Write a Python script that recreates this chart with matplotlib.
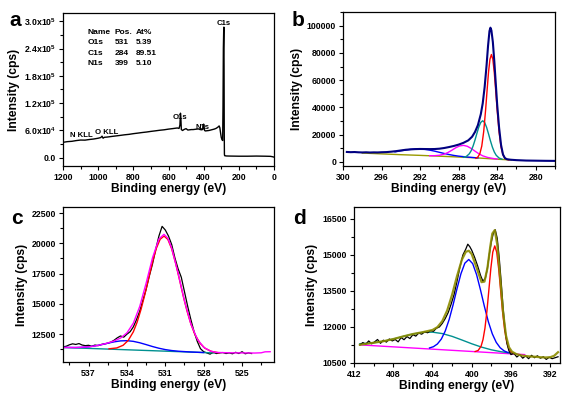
import matplotlib
matplotlib.use("Agg")
import matplotlib.pyplot as plt
from matplotlib.ticker import MultipleLocator, FixedLocator

plt.rcParams['font.family'] = ['Liberation Sans', 'DejaVu Sans']
plt.rcParams['font.weight'] = 'bold'
plt.rcParams['mathtext.fontset'] = 'custom'
plt.rcParams['mathtext.rm'] = 'Liberation Sans:bold'
plt.rcParams['mathtext.bf'] = 'Liberation Sans:bold'
plt.rcParams['mathtext.it'] = 'Liberation Sans:bold'

# ---------------- Panel a: survey ----------------
a_energy = [1200, 1175, 1150, 1125, 1100, 1075, 1050, 1025, 1000, 985, 978, 972, 965, 950,
            925, 900, 875, 850, 825, 800, 775, 750, 725, 700, 675, 650, 625, 600, 575, 550,
            540, 535, 532, 530, 527, 520, 510, 500, 490, 480, 470, 460, 450, 440, 430, 420,
            410, 404, 400, 398, 395, 390, 380, 370, 360, 350, 340, 330, 320, 312, 308, 304,
            300, 296, 292, 290, 288, 286, 285, 284, 283, 282, 281, 280, 270, 250, 200, 150,
            100, 50, 20, 10, 0]
a_counts = [34000, 35500, 36200, 37800, 39000, 38800, 40200, 41300, 43000, 44500, 47500, 43000,
            45000, 45500, 46800, 48000, 49200, 50500, 51500, 53000, 54200, 55500, 56600, 58000,
            59200, 60500, 61500, 63000, 64200, 65500, 64500, 72000, 98000, 90000, 62000, 60000,
            62500, 64000, 61000, 61500, 62000, 62000, 62500, 63000, 63500, 62000, 61500, 63000,
            74000, 70000, 60000, 59000, 59500, 60000, 61000, 62000, 63000, 64500, 67000, 70000,
            66000, 55000, 45000, 40000, 38000, 112000, 240000, 280000, 287000, 200000, 60000,
            8000, 5000, 4500, 4000, 3800, 3500, 3500, 3800, 3500, 3200, 2500, 1500]
a_peak_labels = ["N KLL", "O KLL", "O1s", "N1s", "C1s"]
a_table = [["Name", "Pos.", "At%"],
           ["O1s", "531", "5.39"],
           ["C1s", "284", "89.51"],
           ["N1s", "399", "5.10"]]
a_yticks = [0, 60000, 120000, 180000, 240000, 300000]
a_yticklabels = ["0.0", "6.0x10$^{4}$", "1.2x10$^{5}$", "1.8x10$^{5}$", "2.4x10$^{5}$", "3.0x10$^{5}$"]

# ---------------- Panel b: C1s ----------------
b_data_e = [299.6, 299.2, 298.8, 298.4, 298.0, 297.6, 297.2, 296.8, 296.4, 296.0, 295.5, 295.0,
            294.5, 294.0, 293.5, 293.0, 292.5, 292.0, 291.5, 291.0, 290.5, 290.0, 289.5, 289.0,
            288.5, 288.0, 287.5, 287.0, 286.6, 286.3, 286.0, 285.7, 285.5, 285.3, 285.1, 284.95,
            284.8, 284.7, 284.6, 284.45, 284.3, 284.15, 284.0, 283.8, 283.6, 283.4, 283.2, 283.0,
            282.6, 282.0, 281.0, 280.0, 279.0, 278.0]
b_data_i = [7300, 7150, 7250, 7050, 6950, 7050, 6900, 7000, 6950, 7100, 7200, 7500,
            7900, 8400, 8900, 9200, 9400, 9500, 9450, 9400, 9450, 9700, 10200, 10900,
            11700, 12700, 14000, 15800, 18500, 22000, 27000, 35000, 43000, 55000, 71000, 85000,
            96000, 98500, 96500, 88000, 74000, 58000, 42000, 25000, 12500, 5500, 2800, 2000,
            1600, 1300, 1000, 900, 800, 750]
b_red_e = [286.2, 286.0, 285.8, 285.6, 285.4, 285.2, 285.05, 284.9, 284.75, 284.6, 284.45, 284.3,
           284.15, 284.0, 283.8, 283.6, 283.4, 283.2, 283.0, 282.8]
b_red_i = [2700, 3650, 6000, 11600, 22200, 38200, 52300, 65700, 75300, 78800, 75300, 65500,
           52100, 37900, 21750, 11000, 5300, 2750, 1850, 1450]
b_teal_e = [287.5, 287.2, 286.9, 286.7, 286.5, 286.3, 286.1, 285.9, 285.7, 285.5, 285.3, 285.1,
            284.9, 284.7, 284.5, 284.3, 284.1, 283.8, 283.5]
b_teal_i = [3400, 4000, 5900, 8200, 11660, 16100, 21060, 25700, 29040, 30200, 28900, 25400,
            20600, 15500, 10900, 7300, 4850, 2840, 2000]
b_mag_e = [291.0, 290.5, 290.0, 289.5, 289.1, 288.7, 288.3, 287.9, 287.5, 287.1, 286.7, 286.3,
           285.9, 285.5, 285.0, 284.5, 284.0]
b_mag_i = [4560, 4560, 4860, 5700, 6950, 8590, 10380, 11710, 12150, 11470, 9880, 7870,
           5970, 4460, 3300, 2600, 2060]
b_blue_e = [294.6, 294.0, 293.5, 293.0, 292.5, 292.0, 291.5, 291.0, 290.5, 290.0, 289.5, 289.0,
            288.5, 288.0, 287.0, 286.0]
b_blue_i = [7370, 8150, 8700, 9200, 9450, 9500, 9200, 8650, 7900, 7050, 6200, 5420,
            4760, 4235, 3500, 2950]
b_base_e = [298.0, 296.0, 294.0, 292.0, 290.0, 288.0, 286.0, 284.0, 283.0, 282.5]
b_base_i = [6500, 5900, 5300, 4800, 4200, 3600, 2900, 2000, 1600, 1400]

# ---------------- Panel c: O1s ----------------
c_data_e = [539.0, 538.75, 538.5, 538.25, 538.0, 537.75, 537.5, 537.25, 537.0, 536.75, 536.5,
            536.25, 536.0, 535.75, 535.5, 535.25, 535.0, 534.75, 534.5, 534.25, 534.0, 533.75,
            533.5, 533.25, 533.0, 532.75, 532.5, 532.25, 532.0, 531.75, 531.5, 531.25, 531.0,
            530.75, 530.5, 530.25, 530.0, 529.75, 529.5, 529.25, 529.0, 528.75, 528.5, 528.25,
            528.0, 527.75, 527.5, 527.25, 527.0, 526.75, 526.5, 526.25, 526.0, 525.75, 525.5,
            525.25, 525.0, 524.75, 524.5, 524.25]
c_data_i = [11450, 11500, 11620, 11700, 11650, 11720, 11600, 11550, 11580, 11500, 11600,
            11550, 11650, 11700, 11750, 11850, 12000, 12200, 12350, 12250, 12500, 12700,
            13100, 13700, 14400, 15300, 16200, 17300, 18300, 19500, 20600, 21400, 21100,
            20600, 19900, 18800, 17900, 17200, 16000, 14800, 13700, 12700, 11900, 11300,
            11050, 10950, 10850, 11000, 10900, 10950, 10980, 10900, 10950, 10880, 11000,
            10900, 11050, 10880, 10950, 10900]
c_fit_e = [539.0, 538.0, 537.0, 536.5, 536.0, 535.5, 535.0, 534.5, 534.0, 533.5, 533.0, 532.5,
           532.0, 531.5, 531.1, 530.8, 530.5, 530.0, 529.5, 529.0, 528.5, 528.0, 527.5, 527.0,
           526.0, 525.0, 524.0, 523.5, 523.2, 522.8]
c_fit_i = [11406, 11395, 11453, 11526, 11633, 11770, 11938, 12178, 12605, 13405, 14782, 16710,
           18807, 20362, 20743, 20418, 19614, 17541, 15244, 13344, 12092, 11420, 11111, 10990,
           10960, 10950, 10940, 10960, 11040, 11050]
c_red_e = [535.4, 534.8, 534.3, 533.9, 533.5, 533.2, 532.9, 532.6, 532.3, 532.0, 531.7, 531.4,
           531.1, 530.8, 530.5, 530.2, 529.9, 529.6, 529.3, 529.0, 528.7, 528.3, 527.9, 527.4, 526.8]
c_red_i = [11290, 11360, 11580, 11980, 12690, 13500, 14540, 15775, 17130, 18460, 19590, 20340,
           20600, 20320, 19545, 18390, 17040, 15660, 14400, 13340, 12510, 11765, 11335, 11077, 10960]
c_blue_e = [539.0, 538.0, 537.5, 537.0, 536.5, 536.0, 535.5, 535.0, 534.5, 534.0, 533.5, 533.0,
            532.5, 532.0, 531.5, 531.0, 530.5, 530.0, 529.0, 528.0]
c_blue_i = [11406, 11395, 11412, 11453, 11526, 11629, 11751, 11865, 11943, 11960, 11905, 11789,
            11637, 11477, 11336, 11225, 11146, 11091, 11026, 10981]
c_base_e = [539.0, 527.2]
c_base_i = [11400, 10950]

# ---------------- Panel d: N1s ----------------
d_data_e = [411.4, 411.1, 410.8, 410.5, 410.2, 409.9, 409.6, 409.3, 409.0, 408.7, 408.4, 408.1,
            407.8, 407.5, 407.2, 406.9, 406.6, 406.3, 406.0, 405.7, 405.4, 405.1, 404.8, 404.5,
            404.2, 403.9, 403.6, 403.3, 403.0, 402.7, 402.4, 402.1, 401.8, 401.5, 401.2, 400.9,
            400.6, 400.4, 400.2, 400.0, 399.7, 399.4, 399.1, 398.85, 398.6, 398.4, 398.2, 398.0,
            397.8, 397.6, 397.4, 397.2, 397.0, 396.8, 396.6, 396.4, 396.2, 396.0, 395.7, 395.4,
            395.1, 394.8, 394.5, 394.2, 393.9, 393.6, 393.3, 393.0, 392.7, 392.4, 392.1, 391.8,
            391.5, 391.2]
d_data_i = [11250, 11350, 11280, 11420, 11300, 11380, 11480, 11320, 11450, 11370, 11500, 11420,
            11480, 11380, 11560, 11470, 11600, 11520, 11680, 11620, 11750, 11700, 11800, 11760,
            11850, 11820, 11950, 12000, 12150, 12350, 12600, 12950, 13350, 13900, 14500, 15000,
            15250, 15450, 15350, 15200, 14900, 14550, 14150, 13900, 14050, 14450, 15050, 15550,
            15900, 16050, 15700, 14900, 13900, 12800, 11900, 11300, 11000, 10850, 10900, 10750,
            10850, 10700, 10800, 10680, 10820, 10720, 10800, 10700, 10760, 10650, 10740, 10680,
            10720, 10760]
d_fit_e = [411.4, 410.0, 409.0, 408.0, 407.0, 406.0, 405.0, 404.0, 403.5, 403.0, 402.5, 402.0,
           401.5, 401.0, 400.6, 400.3, 400.0, 399.5, 399.0, 398.7, 398.4, 398.1, 397.9, 397.65,
           397.4, 397.1, 396.8, 396.5, 396.2, 395.9, 395.5, 395.0, 394.5, 394.0, 393.5, 393.0,
           392.5, 392.0, 391.6, 391.2]
d_fit_i = [11260, 11343, 11407, 11497, 11606, 11707, 11784, 11875, 11993, 12244, 12689, 13343,
           14117, 14807, 15132, 15178, 15039, 14468, 13868, 13892, 14447, 15376, 15893, 16036,
           15443, 14051, 12613, 11633, 11156, 10974, 10880, 10820, 10790, 10770, 10760, 10740,
           10730, 10740, 10800, 10950]
d_blue_e = [404.3, 403.9, 403.5, 403.1, 402.7, 402.3, 401.9, 401.5, 401.1, 400.7, 400.3, 399.9,
            399.5, 399.1, 398.7, 398.3, 397.9, 397.5, 397.1, 396.7, 396.3]
d_blue_i = [11127, 11180, 11292, 11496, 11831, 12312, 12923, 13594, 14217, 14659, 14814, 14639,
            14177, 13536, 12845, 12214, 11714, 11360, 11136, 11006, 10934]
d_red_e = [399.65, 399.35, 399.05, 398.85, 398.65, 398.45, 398.25, 398.05, 397.85, 397.65,
           397.45, 397.25, 397.05, 396.85, 396.65, 396.45, 396.25, 395.95, 395.65]
d_red_i = [10979, 11021, 11194, 11474, 11951, 12660, 13548, 14443, 15125, 15379,
           15115, 14423, 13518, 12621, 11902, 11415, 11125, 10938, 10882]
d_teal_e = [411.4, 410.0, 409.0, 408.0, 407.0, 406.0, 405.0, 404.0, 403.0, 402.0, 401.0, 400.0,
            399.0, 398.0, 397.0, 396.0, 395.5]
d_teal_i = [11304, 11343, 11407, 11497, 11606, 11707, 11775, 11785, 11726, 11610, 11459, 11302,
            11162, 11050, 10969, 10911, 10888]
d_base_e = [411.4, 394.6]
d_base_i = [11255, 10850]

# ---------------- Figure ----------------
W, H = 576, 399
fig = plt.figure(figsize=(W / 100, H / 100), dpi=100)


def ax_at(l, t, r, b):
    return fig.add_axes([l / W, 1 - b / H, (r - l) / W, (b - t) / H])


axa = ax_at(63, 13, 274, 166)
axb = ax_at(343, 12, 555, 166)
axc = ax_at(63, 207, 274, 362)
axd = ax_at(354, 207, 560, 363)

TICK_FS = 6.3
LAB_FS = 8.7

for ax in (axa, axb, axc, axd):
    for s in ax.spines.values():
        s.set_linewidth(0.9)
    ax.tick_params(which='both', direction='out', top=False, right=False, width=0.8,
                   labelsize=TICK_FS, pad=2)
    ax.tick_params(which='major', length=3)
    ax.tick_params(which='minor', length=2)
    ax.set_xlabel("Binding energy (eV)", fontsize=LAB_FS, fontweight='bold', labelpad=1)
    ax.set_ylabel("Intensity (cps)", fontsize=LAB_FS, fontweight='bold', labelpad=3)

# Panel a
axa.plot(a_energy, a_counts, color='black', lw=1.0)
axa.set_xlim(1200, 0)
axa.set_ylim(-18000, 318000)
axa.xaxis.set_major_locator(MultipleLocator(200))
axa.xaxis.set_minor_locator(MultipleLocator(100))
axa.yaxis.set_major_locator(FixedLocator(a_yticks))
axa.yaxis.set_minor_locator(MultipleLocator(30000))
axa.set_yticklabels(a_yticklabels, fontweight='bold')
ann_fs = 6.0
axa.text(1162, 50000, a_peak_labels[0], fontsize=5.6, ha='left', va='center')
axa.text(1020, 56000, a_peak_labels[1], fontsize=5.6, ha='left', va='center')
axa.text(536, 89000, a_peak_labels[2], fontsize=5.6, ha='center', va='center')
axa.text(404, 66000, a_peak_labels[3], fontsize=5.6, ha='center', va='center')
axa.text(284, 296000, a_peak_labels[4], fontsize=5.6, ha='center', va='center')
row_y = [276000, 253000, 230000, 207000]
col_x = [1058, 907, 787]
for r, row in enumerate(a_table):
    for c, val in enumerate(row):
        axa.text(col_x[c], row_y[r], val, fontsize=ann_fs, ha='left', va='center')

# Panel b
axb.plot(b_base_e, b_base_i, color='#999900', lw=1.0)
axb.plot(b_blue_e, b_blue_i, color='#0000ff', lw=1.0)
axb.plot(b_mag_e, b_mag_i, color='#ff00ff', lw=1.0)
axb.plot(b_teal_e, b_teal_i, color='#009090', lw=1.0)
axb.plot(b_red_e, b_red_i, color='#ff0000', lw=1.0)
axb.plot(b_data_e, b_data_i, color='#000080', lw=1.5)
axb.set_xlim(300, 278)
axb.set_ylim(-3000, 110000)
axb.xaxis.set_major_locator(MultipleLocator(4))
axb.xaxis.set_minor_locator(MultipleLocator(2))
axb.yaxis.set_major_locator(MultipleLocator(20000))
axb.yaxis.set_minor_locator(MultipleLocator(10000))

# Panel c
axc.plot(c_data_e, c_data_i, color='black', lw=0.9)
axc.plot(c_base_e, c_base_i, color='#009090', lw=1.0)
axc.plot(c_blue_e, c_blue_i, color='#0000ff', lw=1.0)
axc.plot(c_red_e, c_red_i, color='#ff0000', lw=1.0)
axc.plot(c_fit_e, c_fit_i, color='#ff00ff', lw=1.0)
axc.set_xlim(539, 522.5)
axc.set_ylim(10200, 23000)
axc.xaxis.set_major_locator(FixedLocator([537, 534, 531, 528, 525]))
axc.xaxis.set_minor_locator(MultipleLocator(1.5))
axc.yaxis.set_major_locator(MultipleLocator(2500))
axc.yaxis.set_minor_locator(MultipleLocator(1250))

# Panel d
axd.plot(d_base_e, d_base_i, color='#ff00ff', lw=1.0)
axd.plot(d_teal_e, d_teal_i, color='#009090', lw=1.0)
axd.plot(d_blue_e, d_blue_i, color='#0000ff', lw=1.0)
axd.plot(d_red_e, d_red_i, color='#ff0000', lw=1.0)
axd.plot(d_data_e, d_data_i, color='black', lw=0.9)
axd.plot(d_fit_e, d_fit_i, color='#8c8c00', lw=1.6, alpha=0.9)
axd.set_xlim(412, 391)
axd.set_ylim(10500, 17000)
axd.xaxis.set_major_locator(MultipleLocator(4))
axd.xaxis.set_minor_locator(MultipleLocator(2))
axd.yaxis.set_major_locator(MultipleLocator(1500))
axd.yaxis.set_minor_locator(MultipleLocator(750))

for ax in (axa, axb, axc, axd):
    for lbl in ax.get_xticklabels() + ax.get_yticklabels():
        lbl.set_fontweight('bold')

# panel letters
for letter, (px, py) in zip("abcd", [(15, 20), (298, 20), (17, 218), (300, 218)]):
    fig.text(px / W, 1 - py / H, letter, fontsize=15, fontweight='bold', ha='center', va='center')

fig.savefig("out.png", dpi=100)
